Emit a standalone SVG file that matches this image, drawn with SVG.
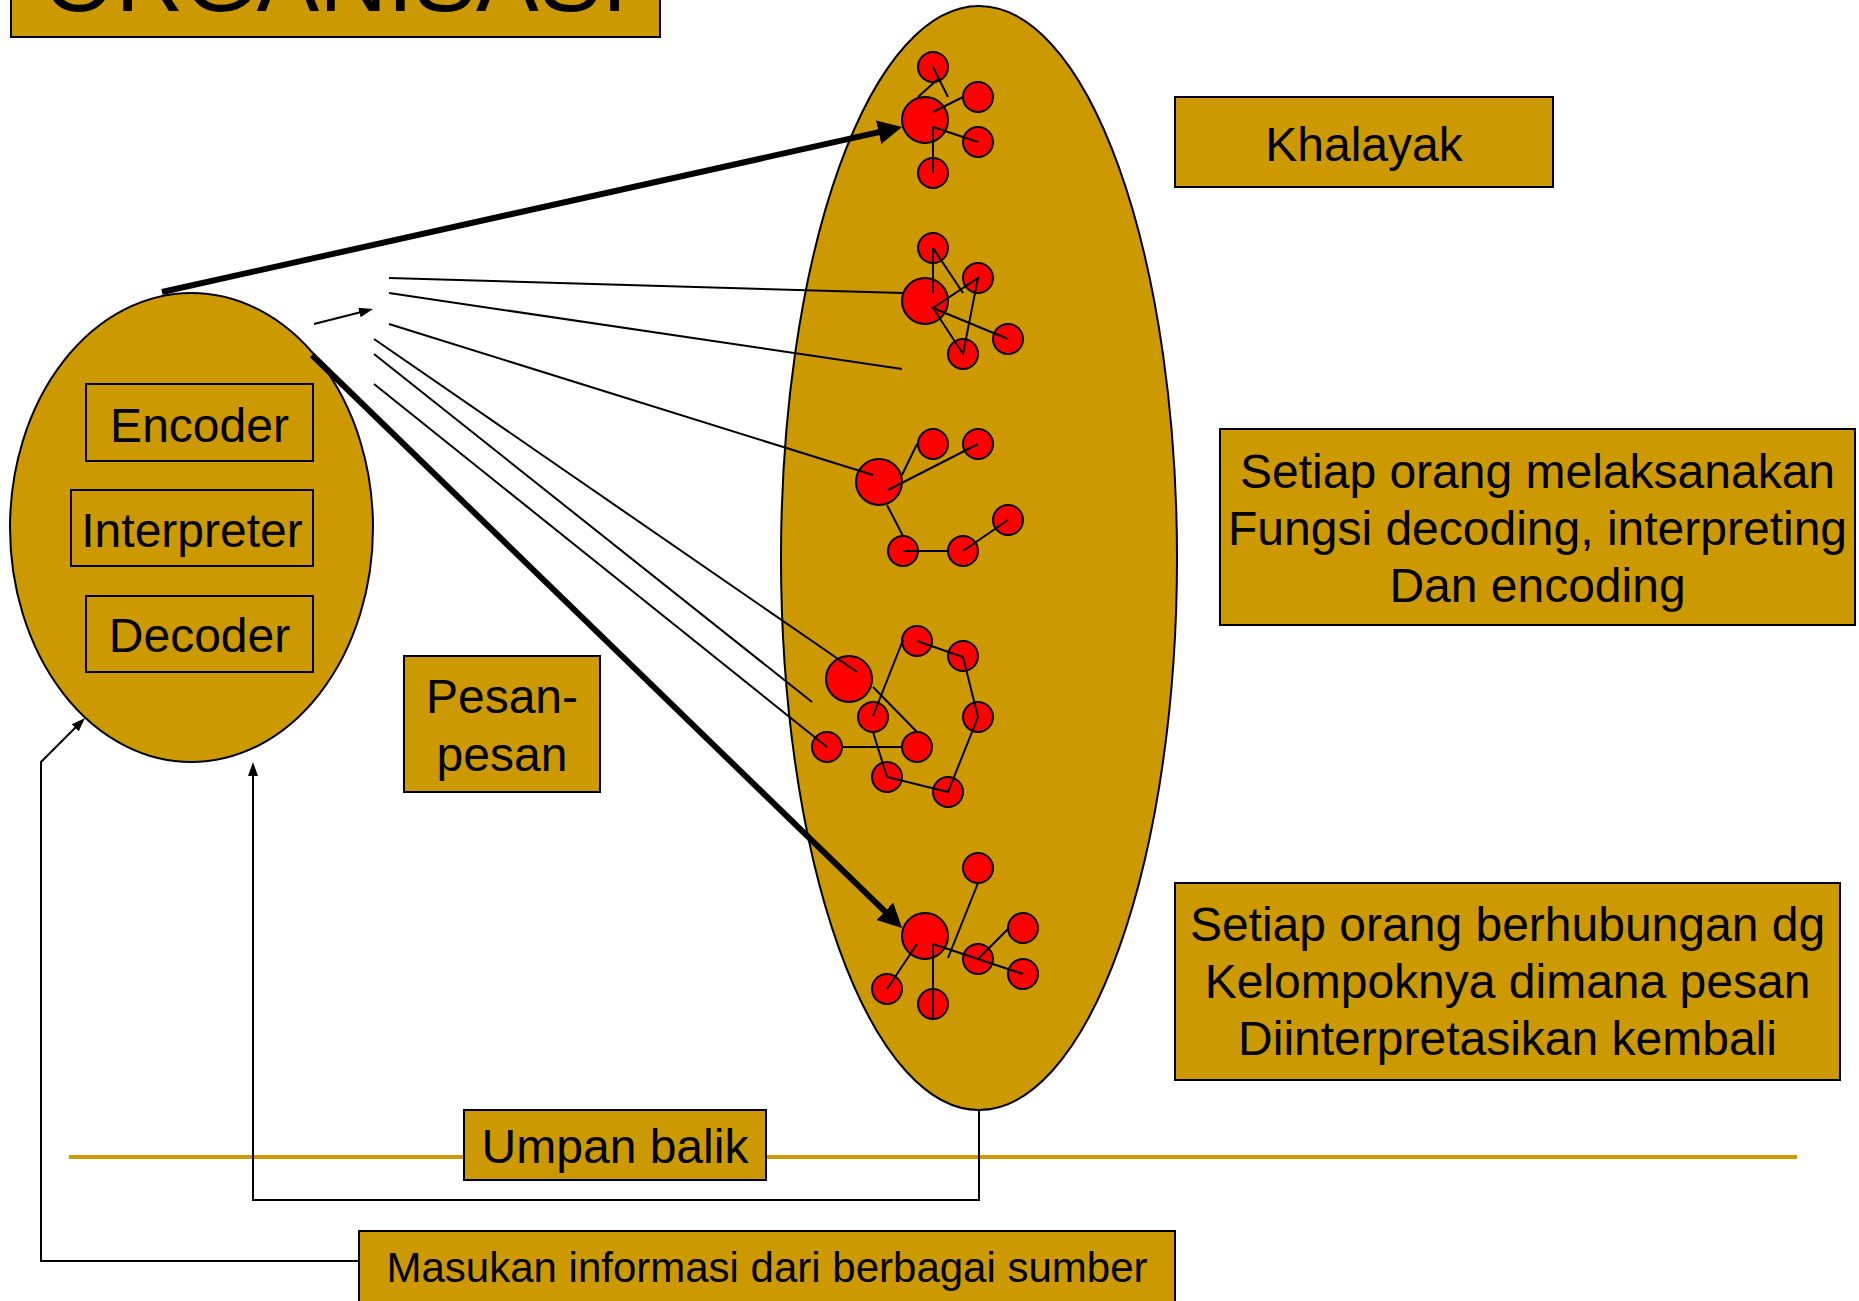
<svg xmlns="http://www.w3.org/2000/svg" width="1859" height="1301" viewBox="0 0 1859 1301">
<style>
text{font-family:"Liberation Sans",Arial,sans-serif;fill:#000}
.box{fill:#CC9900;stroke:#000;stroke-width:2}
.ib{fill:none;stroke:#000;stroke-width:2}
.ell{fill:#CC9900;stroke:#000;stroke-width:2}
.p{fill:#FF0000;stroke:#000;stroke-width:2}
.ln{stroke:#000;stroke-width:2;fill:none}
.thick{stroke:#000;stroke-width:6;fill:none}
.t48{font-size:48px}
</style>
<defs>
<marker id="headL" markerUnits="userSpaceOnUse" markerWidth="26" markerHeight="26" refX="4" refY="12" orient="auto"><path d="M0,0 L24,12 L0,24 z" fill="#000"/></marker>
<marker id="headS" markerUnits="userSpaceOnUse" markerWidth="16" markerHeight="12" refX="2" refY="5" orient="auto"><path d="M0,0 L14,5 L0,10 z" fill="#000"/></marker>
</defs>
<rect width="1859" height="1301" fill="#fff"/>
<line x1="69" y1="1157" x2="1797" y2="1157" stroke="#CC9900" stroke-width="4"/>
<g id="title"><rect class="box" x="11" y="-60" width="649" height="97"/><text x="335" y="11" font-size="94" text-anchor="middle">ORGANISASI</text></g>
<g id="organisasi">
<ellipse class="ell" cx="191.5" cy="527.5" rx="181.5" ry="234.5"/>
<g id="encoder"><rect class="ib" x="86" y="384" width="227" height="77"/><text class="t48" x="199.5" y="442" text-anchor="middle">Encoder</text></g>
<g id="interpreter"><rect class="ib" x="71" y="490" width="242" height="76"/><text class="t48" x="192" y="547" text-anchor="middle">Interpreter</text></g>
<g id="decoder"><rect class="ib" x="86" y="596" width="227" height="76"/><text class="t48" x="199.5" y="652" text-anchor="middle">Decoder</text></g>
</g>
<g id="khalayak-ellipse"><ellipse class="ell" cx="979" cy="558" rx="198" ry="552"/></g>
<g id="group1">
<circle class="p" cx="925" cy="120" r="23"/><circle class="p" cx="933" cy="67" r="15"/><circle class="p" cx="978" cy="97" r="15"/><circle class="p" cx="978" cy="142" r="15"/><circle class="p" cx="933" cy="173" r="15"/>
<path class="ln" d="M918,97 L938,79 M933,67 L948,97 M933,112 L963,97 M933,127 L978,142 M933,127 L933,173"/>
</g>
<g id="group2">
<circle class="p" cx="925" cy="301" r="23"/><circle class="p" cx="933" cy="248" r="15"/><circle class="p" cx="978" cy="278" r="15"/><circle class="p" cx="1008" cy="339" r="15"/><circle class="p" cx="963" cy="354" r="15"/>
<path class="ln" d="M933,248 L933,293 M933,248 L963,293 M933,308 L978,278 L963,354 L933,308 L1008,339"/>
</g>
<g id="group3">
<circle class="p" cx="879" cy="482" r="23"/><circle class="p" cx="933" cy="444" r="15"/><circle class="p" cx="978" cy="444" r="15"/><circle class="p" cx="903" cy="551" r="15"/><circle class="p" cx="963" cy="551" r="15"/><circle class="p" cx="1008" cy="520" r="15"/>
<path class="ln" d="M902,475 L917,444 M888,490 L978,444 M887,505 L903,536 M903,551 L948,551 M963,551 L1008,520"/>
</g>
<g id="group4">
<circle class="p" cx="849" cy="679" r="23"/><circle class="p" cx="917" cy="641" r="15"/><circle class="p" cx="963" cy="656" r="15"/><circle class="p" cx="978" cy="717" r="15"/><circle class="p" cx="873" cy="717" r="15"/><circle class="p" cx="827" cy="747" r="15"/><circle class="p" cx="917" cy="747" r="15"/><circle class="p" cx="887" cy="777" r="15"/><circle class="p" cx="948" cy="792" r="15"/>
<path class="ln" d="M917,641 L963,657 L978,717 L948,792 L887,777 L873,732 M873,716 L903,640 M873,687 L917,732 M842,747 L903,747"/>
</g>
<g id="group5">
<circle class="p" cx="925" cy="936" r="23"/><circle class="p" cx="978" cy="868" r="15"/><circle class="p" cx="1023" cy="928" r="15"/><circle class="p" cx="978" cy="959" r="15"/><circle class="p" cx="1023" cy="974" r="15"/><circle class="p" cx="887" cy="989" r="15"/><circle class="p" cx="933" cy="1004" r="15"/>
<path class="ln" d="M978,883 L948,958 M933,944 L933,1019 M933,944 L1023,974 M979,958 L1009,928 M917,944 L887,989"/>
</g>
<g id="connectors">
<line class="thick" x1="162" y1="292" x2="882.5" y2="131.4" marker-end="url(#headL)"/>
<line class="thick" x1="312" y1="355" x2="887.7" y2="914.1" marker-end="url(#headL)"/>
<line class="ln" stroke-width="2.5" x1="314" y1="324" x2="361.4" y2="312" marker-end="url(#headS)"/>
<line class="ln" x1="389" y1="278" x2="903" y2="293"/>
<line class="ln" x1="389" y1="293" x2="902" y2="369"/>
<line class="ln" x1="389" y1="324" x2="873" y2="475"/>
<line class="ln" x1="374" y1="339" x2="857" y2="672"/>
<line class="ln" x1="374" y1="354" x2="812" y2="702"/>
<line class="ln" x1="374" y1="384" x2="827" y2="747"/>
<path class="ln" d="M979,1110 V1200 H253 V774" marker-end="url(#headS)"/>
<path class="ln" d="M358,1261 H41 V762 L76.5,726.5" marker-end="url(#headS)"/>
</g>
<g id="pesan"><rect class="box" x="404" y="656" width="196" height="136"/><text class="t48" x="502" y="713" text-anchor="middle">Pesan-</text><text class="t48" x="502" y="771" text-anchor="middle">pesan</text></g>
<g id="khalayak"><rect class="box" x="1175" y="97" width="378" height="90"/><text class="t48" x="1364" y="161" text-anchor="middle">Khalayak</text></g>
<g id="fungsi"><rect class="box" x="1220" y="429" width="635" height="196"/><text class="t48" text-anchor="middle"><tspan x="1537.5" y="488">Setiap orang melaksanakan</tspan><tspan x="1537.5" y="545">Fungsi decoding, interpreting</tspan><tspan x="1537.5" y="602">Dan encoding</tspan></text></g>
<g id="kelompok"><rect class="box" x="1175" y="883" width="665" height="197"/><text class="t48" text-anchor="middle"><tspan x="1507.5" y="941">Setiap orang berhubungan dg</tspan><tspan x="1507.5" y="998">Kelompoknya dimana pesan</tspan><tspan x="1507.5" y="1055">Diinterpretasikan kembali</tspan></text></g>
<g id="umpan-balik"><rect class="box" x="464" y="1110" width="302" height="70"/><text class="t48" x="615" y="1163" text-anchor="middle">Umpan balik</text></g>
<g id="masukan"><rect class="box" x="359" y="1231" width="816" height="80"/><text x="767" y="1282" font-size="42" text-anchor="middle">Masukan informasi dari berbagai sumber</text></g>
</svg>
